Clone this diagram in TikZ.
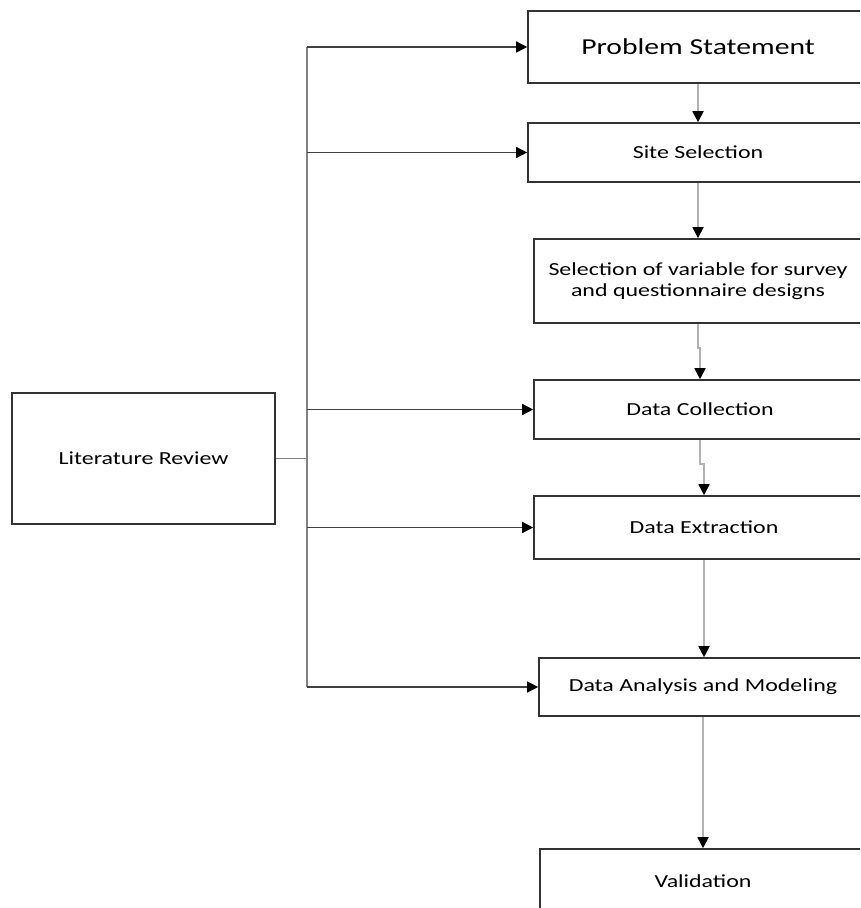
\documentclass[tikz,border=0pt]{standalone}
\usepackage{fontspec}
\setmainfont{Carlito}[FakeStretch=1.3]
\usetikzlibrary{
  calc,
  arrows.meta,
  positioning
}
\tikzset{
  stage/.style={rectangle, draw=black!80, line width=0.8pt, fill=white,
    inner sep=2pt, align=center, font=\fontsize{9.2}{10.5}\selectfont},
  link/.style={draw=black!50, line width=0.65pt},
  flow/.style={link, -{Triangle[black, length=5.5pt, width=5.5pt]}},
  downflow/.style={flow, draw=black!30, line width=0.9pt}
}

\begin{document}
\begin{tikzpicture}[x=0.5pt, y=-0.5pt]

% frame
\useasboundingbox (0,0) rectangle (860,908);
\clip (0,0) rectangle (860,908);

% nodes
\node[stage, minimum width=170pt, minimum height=36pt,
      font=\fontsize{11.4}{13}\selectfont] (prob) at (698,47)    {Problem Statement};
\node[stage, minimum width=170pt, minimum height=29.5pt] (site) at (698,152.5) {Site Selection};
\node[stage, minimum width=164pt, minimum height=42pt]   (vars) at (698,281)
  {Selection of variable for survey\\and questionnaire designs};
\node[stage, minimum width=166pt, minimum height=29.5pt] (coll) at (700,409.5) {Data Collection};
\node[stage, minimum width=170pt, minimum height=31.5pt] (extr) at (704,527.5) {Data Extraction};
\node[stage, minimum width=164pt, minimum height=29pt]   (anal) at (703,687)   {Data Analysis and Modeling};
\node[stage, minimum width=163pt, minimum height=32pt]   (valid) at (703,881)  {Validation};
\node[stage, minimum width=131.5pt, minimum height=65.5pt] (lit) at (143.5,458.5) {Literature Review};

\coordinate (bus) at (307,0);

% arrows
\draw[downflow] (prob) -- (site);
\draw[downflow] (site) -- (vars);
\draw[downflow] (vars.south) -- ++(0,24) -| (coll.north);
\draw[downflow] (coll.south) -- ++(0,24) -| (extr.north);
\draw[downflow] (extr.south) -- (extr.south |- anal.north);
\draw[downflow] (anal) -- (valid);

% literature feed
\draw[link] (lit.east) -- (lit.east -| bus);
\draw[link] (bus |- prob.west) -- (bus |- anal.west);
\foreach \n in {prob,site,coll,extr,anal}
  \draw[flow, draw=black!75] (bus |- \n.west) -- (\n.west);

\end{tikzpicture}
\end{document}
